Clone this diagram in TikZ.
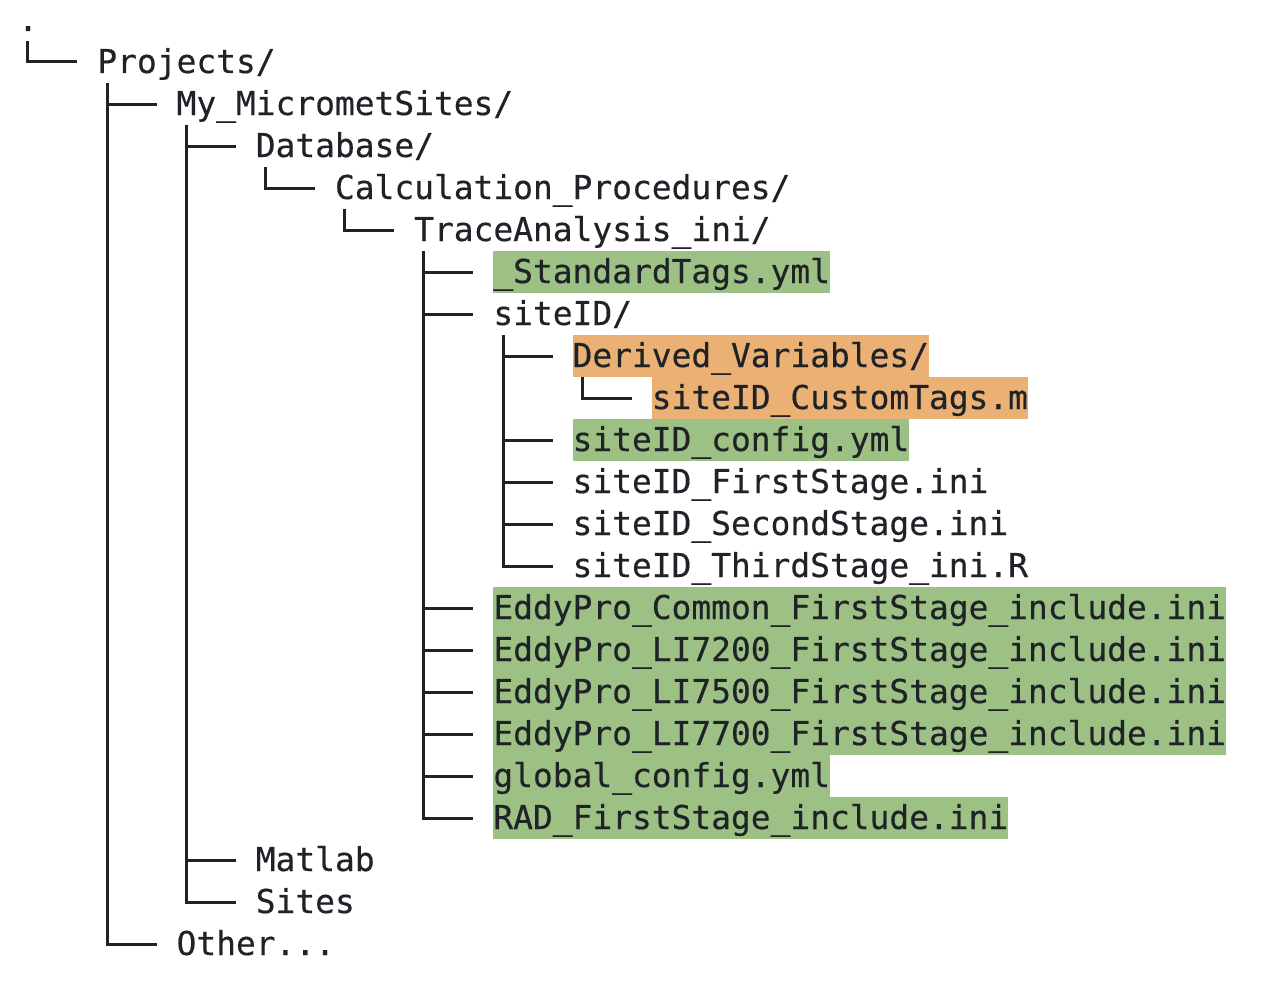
\documentclass[tikz,border=0pt]{standalone}
\usepackage{fontspec}
\newfontfamily\treefont[FakeBold=0.4]{DejaVu Sans Mono}
\definecolor{ink}{RGB}{31,35,40}
\definecolor{hlg}{RGB}{157,193,132}
\definecolor{hlo}{RGB}{235,176,116}
\begin{document}
\begin{tikzpicture}[x=1pt,y=-1pt,
  entry/.style={anchor=west, inner sep=0pt, text height=32pt, text depth=10pt,
    font=\treefont\fontsize{32.89}{42}\selectfont, text=ink},
  hlgreen/.style={entry, fill=hlg},
  hlorange/.style={entry, fill=hlo},
  branch/.style={draw=ink, line width=3pt}
]
\useasboundingbox (0,0) rectangle (1268,990);
% rows: y = 20 + 42 i ; levels: x = 18 + 79.2 L
\node[entry] (root) at (18,20) {.};
\node[entry] (proj) at (97.2,62) {Projects/};
\node[entry] (my) at (176.4,104) {My\_MicrometSites/};
\node[entry] (db) at (255.6,146) {Database/};
\node[entry] (calc) at (334.8,188) {Calculation\_Procedures/};
\node[entry] (trace) at (414,230) {TraceAnalysis\_ini/};
\node[hlgreen] (std) at (493.2,272) {\_StandardTags.yml};
\node[entry] (site) at (493.2,314) {siteID/};
\node[hlorange] (der) at (572.4,356) {Derived\_Variables/};
\node[hlorange] (cust) at (651.6,398) {siteID\_CustomTags.m};
\node[hlgreen] (conf) at (572.4,440) {siteID\_config.yml};
\node[entry] (first) at (572.4,482) {siteID\_FirstStage.ini};
\node[entry] (second) at (572.4,524) {siteID\_SecondStage.ini};
\node[entry] (third) at (572.4,566) {siteID\_ThirdStage\_ini.R};
\node[hlgreen] (ep1) at (493.2,608) {EddyPro\_Common\_FirstStage\_include.ini};
\node[hlgreen] (ep2) at (493.2,650) {EddyPro\_LI7200\_FirstStage\_include.ini};
\node[hlgreen] (ep3) at (493.2,692) {EddyPro\_LI7500\_FirstStage\_include.ini};
\node[hlgreen] (ep4) at (493.2,734) {EddyPro\_LI7700\_FirstStage\_include.ini};
\node[hlgreen] (glob) at (493.2,776) {global\_config.yml};
\node[hlgreen] (rad) at (493.2,818) {RAD\_FirstStage\_include.ini};
\node[entry] (mat) at (255.6,860) {Matlab};
\node[entry] (sites) at (255.6,902) {Sites};
\node[entry] (other) at (176.4,944) {Other...};
% branches
\foreach \p/\c in {root/proj, proj/my, proj/other, my/db, my/mat, my/sites,
  db/calc, calc/trace, trace/std, trace/site, trace/ep1, trace/ep2, trace/ep3,
  trace/ep4, trace/glob, trace/rad, site/der, site/conf, site/first, site/second,
  site/third, der/cust}
  \draw[branch] ([xshift=9.9pt]\p.south west) |- ([xshift=-19.8pt]\c.west);
\end{tikzpicture}
\end{document}
